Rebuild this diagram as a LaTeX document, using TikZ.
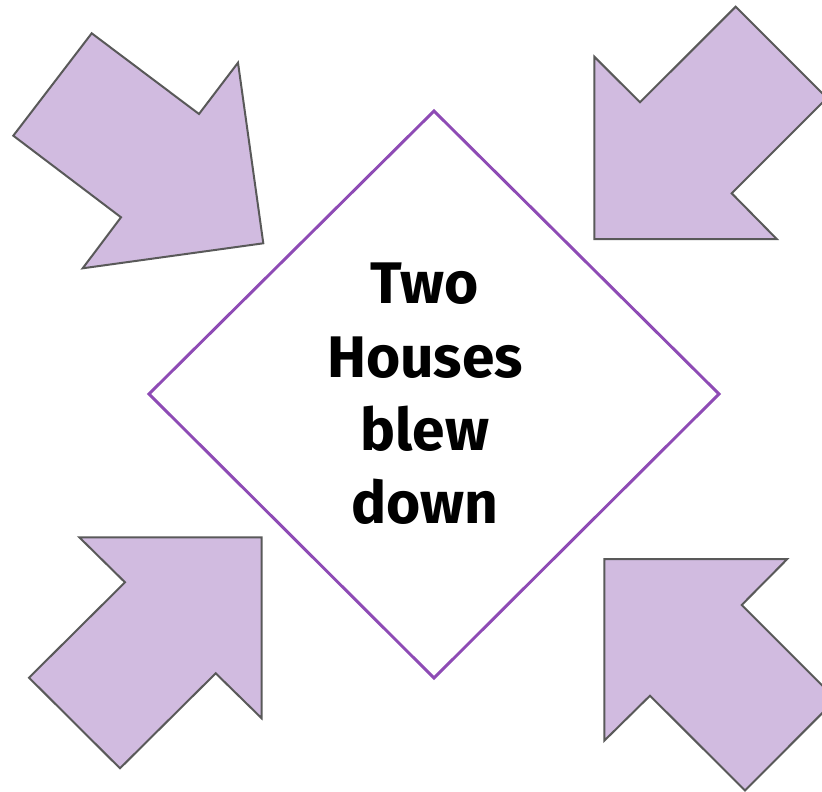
\documentclass[tikz,border=0pt]{standalone}
\usepackage{fontspec}
\setmainfont{Fira Sans}

\definecolor{arrowfill}{HTML}{D1BBE0}
\definecolor{arrowline}{HTML}{595959}
\definecolor{boxline}{HTML}{8E4BB5}

\tikzset{
  fatarrow/.style={fill=arrowfill,draw=arrowline,line width=1.5pt,line join=miter},
  centrebox/.style={draw=boxline,line width=2.2pt,line join=miter}
}

\begin{document}
\begin{tikzpicture}[x=0.75pt,y=-0.75pt]
  \useasboundingbox (0,0) rectangle (822,792);
  \clip (0,0) rectangle (822,792);

  \draw[centrebox] (434,111) -- (719,394) -- (434,678) -- (149,394) -- cycle;

  \node[align=center,font=\fontsize{44}{55}\selectfont\bfseries] (title) at (425,394)
    {Two\\Houses\\blew\\down};

  % top left, pointing down right
  \draw[fatarrow] (91.7,33.3) -- (199,114) -- (238,62.7) -- (263.3,243.3)
    -- (82.7,268.3) -- (121,217.3) -- (13.3,135.7) -- cycle;
  % top right, pointing down left
  \draw[fatarrow] (735.7,6.7) -- (827,98) -- (731.7,193.3) -- (776.7,239)
    -- (594.3,239) -- (594.3,56.7) -- (640,102.3) -- cycle;
  % bottom left, pointing up right
  \draw[fatarrow] (79.3,537.3) -- (261.7,537.3) -- (261.7,718.3) -- (215.7,673.3)
    -- (120,768.3) -- (29,677.7) -- (125,582.3) -- cycle;
  % bottom right, pointing up left
  \draw[fatarrow] (604.3,559) -- (787.3,559) -- (741.7,605) -- (836,699.3)
    -- (745,790.5) -- (650,695.7) -- (604.3,740.7) -- cycle;
\end{tikzpicture}
\end{document}
